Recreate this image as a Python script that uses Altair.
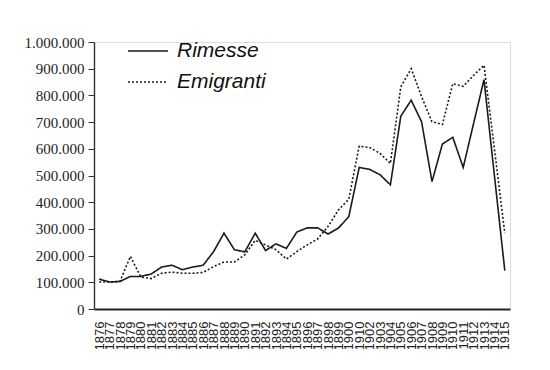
import json
import altair as alt
import pandas as pd

years = list(range(1876, 1916))
tick_labels = [str(y) for y in range(1876, 1901)] + ["1910"] + [str(y) for y in range(1902, 1916)]
rimesse = [112, 101, 103, 122, 122, 131, 157, 164, 147, 157,
           164, 215, 284, 222, 214, 284, 219, 244, 227, 288,
           304, 304, 281, 303, 346, 530, 523, 503, 465, 722,
           782, 701, 477, 618, 643, 530, 695, 859, 500, 144]
emigranti = [101, 101, 104, 197, 120, 114, 134, 138, 134, 134,
             137, 159, 176, 176, 203, 257, 240, 222, 187, 215,
             240, 262, 309, 371, 411, 610, 605, 583, 545, 832,
             900, 795, 701, 691, 844, 834, 875, 913, 600, 284]
series = ["Rimesse", "Emigranti"]

rows = []
for y, r, e in zip(years, rimesse, emigranti):
    rows.append({"year": y, "serie": "Rimesse", "valore": r * 1000})
    rows.append({"year": y, "serie": "Emigranti", "valore": e * 1000})
df = pd.DataFrame(rows)

label_expr = json.dumps(tick_labels) + "[toNumber(datum.value) - 1876]"

chart = alt.Chart(df).mark_line(color="#1a1a1a", strokeWidth=1.6).encode(
    x=alt.X("year:O", scale=alt.Scale(type="point", padding=0.5),
            axis=alt.Axis(title=None, labelAngle=270, labelExpr=label_expr,
                          ticks=False, labelPadding=12, labelFont="Liberation Sans",
                          labelFontSize=13, labelColor="#222", domainColor="#222",
                          domainWidth=2.2)),
    y=alt.Y("valore:Q", scale=alt.Scale(domain=[0, 1000000], nice=False),
            axis=alt.Axis(title=None, values=list(range(0, 1000001, 100000)),
                          labelExpr="replace(format(datum.value, ','), regexp(',', 'g'), '.')",
                          labelFont="Liberation Serif", labelFontSize=15, labelColor="#222",
                          grid=False, tickSize=6, tickColor="#333", domainColor="#333",
                          domainWidth=1.4, labelPadding=4)),
    strokeDash=alt.StrokeDash("serie:N", sort=series,
                              scale=alt.Scale(domain=series, range=[[1, 0], [2, 2]]),
                              legend=alt.Legend(title=None, orient="none", legendX=33, legendY=-12,
                                                symbolType="stroke", symbolSize=1600,
                                                symbolStrokeColor="#1a1a1a", symbolStrokeWidth=1.6,
                                                labelFont="Liberation Sans", labelFontStyle="italic",
                                                labelFontSize=21, labelColor="#111",
                                                labelOffset=8, rowPadding=0)),
    order="year:O",
).properties(
    width=416, height=267,
    autosize=alt.AutoSizeParams(type="none"),
    padding={"left": 86, "top": 34, "right": 20, "bottom": 40},
).configure_view(stroke=None).configure(background="white")

chart.save("out.html", embed_options={"renderer": "svg", "actions": False})
